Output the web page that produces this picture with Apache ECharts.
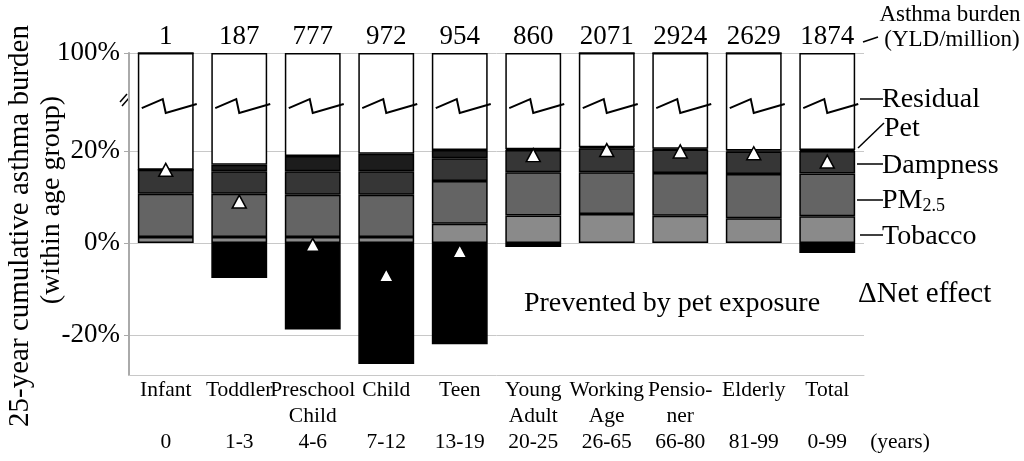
<!DOCTYPE html>
<html>
<head>
<meta charset="utf-8">
<script src="https://cdn.jsdelivr.net/npm/echarts@6/dist/echarts.min.js"></script>
<style>html,body{margin:0;padding:0;background:#fff}#c{width:1024px;height:461px}</style>
</head>
<body>
<div id="c"></div>
<script>
var categories = ['Infant','Toddler','Preschool\nChild','Child','Teen','Young\nAdult','Working\nAge','Pensio-\nner','Elderly','Total'];
var ages = ['0','1-3','4-6','7-12','13-19','20-25','26-65','66-80','81-99','0-99'];
var burden = [1,187,777,972,954,860,2071,2924,2629,1874];
var tobacco = [1.3,1.3,1.3,1.3,4.2,6.0,6.3,5.9,5.4,5.8];
var pm25 = [9.4,9.4,9.2,9.2,9.3,9.4,9.1,9.3,9.6,9.3];
var dampness = [5.2,4.9,5.1,5.1,4.9,4.8,5.2,5.1,4.9,4.9];
var pet = [0,1.4,3.3,3.8,1.8,0.2,0.2,0.2,0.2,0.2];
var prevented = [0,-7.6,-18.8,-26.3,-22.0,-0.9,0,0,0,-2.2];
var netEffect = [15.9,9.0,-0.4,-7.0,-1.8,19.1,20.2,19.9,19.5,17.7];
var yTickValues = [-20, 0, 20, 100];

// broken axis: values above 20% are compressed
var BREAK_AT = 20, BREAK_TOP = 41.3;
function toDisp(v){ return v <= BREAK_AT ? v : BREAK_AT + (v - BREAK_AT) * (BREAK_TOP - BREAK_AT) / (100 - BREAK_AT); }
function fromDisp(d){ return d <= BREAK_AT + 0.01 ? d : BREAK_AT + (d - BREAK_AT) * (100 - BREAK_AT) / (BREAK_TOP - BREAK_AT); }
var posSum = categories.map(function(_, i){ return tobacco[i] + pm25[i] + dampness[i] + pet[i]; });
var residual = posSum.map(function(s){ return 100 - s; });
var residualDisp = posSum.map(function(s){ return +(toDisp(100) - s).toFixed(3); });
var zigzagLevel = 30.2;

var SERIF = '"Liberation Serif","DejaVu Serif",serif';
var border = {borderColor:'#000', borderWidth:1.5};
function barSeries(name, data, color){
  return {name:name, type:'bar', stack:'a', data:data, barCategoryGap:'24%',
    itemStyle:Object.assign({color:color}, border), emphasis:{disabled:true}};
}

var chart = echarts.init(document.getElementById('c'));
var option = {
  animation:false,
  grid:{left:129, right:160, top:53, bottom:86},
  xAxis:{type:'category', data:categories,
    axisLine:{onZero:false, lineStyle:{color:'#c8c8c8', width:1}},
    axisTick:{show:false},
    axisLabel:{interval:0, margin:2, color:'#000', fontFamily:SERIF, fontSize:21.5, lineHeight:26,
      formatter:function(v, i){ var parts = v.split('\n'); if(parts.length<2) parts.push(''); return parts.join('\n') + '\n' + ages[i]; }}
  },
  yAxis:{type:'value', min:-28.7, max:BREAK_TOP,
    axisLine:{show:true, lineStyle:{color:'#aaa', width:2}},
    axisTick:{show:true, length:5, lineStyle:{color:'#aaa'}, customValues:yTickValues.map(toDisp)},
    axisLabel:{customValues:yTickValues.map(toDisp), margin:9, color:'#000', fontFamily:SERIF, fontSize:27,
      formatter:function(v){ return Math.round(fromDisp(v)) + '%'; }},
    splitLine:{show:true, lineStyle:{color:'#c8c8c8', width:1}}
  },
  series:[
    barSeries('Tobacco', tobacco, '#8a8a8a'),
    barSeries('PM2.5', pm25, '#646464'),
    barSeries('Dampness', dampness, '#363636'),
    barSeries('Pet', pet, '#1c1c1c'),
    Object.assign(barSeries('Residual', residualDisp, '#ffffff'), {
      label:{show:true, position:'top', distance:3, color:'#000', fontFamily:SERIF, fontSize:27,
        formatter:function(p){ return String(burden[p.dataIndex]); }}
    }),
    barSeries('Prevented by pet exposure', prevented, '#000000'),
    {type:'custom', name:'break', z:5, data:categories.map(function(_, i){ return [i, zigzagLevel]; }),
      renderItem:function(params, api){
        var c = api.coord([api.value(0), api.value(1)]);
        var x = c[0], y = c[1];
        return {type:'polyline', shape:{points:[[x-24,y+4],[x-3,y-5],[x,y+9],[x+31,y]]},
          style:{stroke:'#000', lineWidth:2, fill:null}};
      }},
    {type:'scatter', name:'Net effect', z:6, data:netEffect, symbol:'triangle', symbolSize:[14,13],
      itemStyle:{color:'#fff', opacity:1, borderColor:'#000', borderWidth:1.5}, emphasis:{disabled:true}}
  ],
  graphic:[
    {type:'text', rotation:Math.PI/2, x:20, y:226,
      style:{text:'25-year cumulative asthma burden', font:'29px '+SERIF, fill:'#000', textAlign:'center', textVerticalAlign:'middle'}},
    {type:'text', rotation:Math.PI/2, x:52, y:200,
      style:{text:'(within age group)', font:'28px '+SERIF, fill:'#000', textAlign:'center', textVerticalAlign:'middle'}},
    {type:'line', shape:{x1:120,y1:102,x2:127,y2:94}, style:{stroke:'#000', lineWidth:1.5}},
    {type:'line', shape:{x1:122,y1:106,x2:129,y2:98}, style:{stroke:'#000', lineWidth:1.5}},
    {type:'text', x:950, y:15, style:{text:'Asthma burden', font:'23px '+SERIF, fill:'#000', textAlign:'center', textVerticalAlign:'middle'}},
    {type:'text', x:952, y:40, style:{text:'(YLD/million)', font:'23px '+SERIF, fill:'#000', textAlign:'center', textVerticalAlign:'middle'}},
    {type:'line', shape:{x1:863,y1:42,x2:878,y2:37}, style:{stroke:'#000', lineWidth:1.5}},
    {type:'line', shape:{x1:860,y1:99,x2:883,y2:99}, style:{stroke:'#000', lineWidth:1.5}},
    {type:'text', x:882, y:100, style:{text:'Residual', font:'28px '+SERIF, fill:'#000', textVerticalAlign:'middle'}},
    {type:'line', shape:{x1:858,y1:148,x2:884,y2:123}, style:{stroke:'#000', lineWidth:1.5}},
    {type:'text', x:884, y:129, style:{text:'Pet', font:'28px '+SERIF, fill:'#000', textVerticalAlign:'middle'}},
    {type:'line', shape:{x1:857,y1:164,x2:883,y2:164}, style:{stroke:'#000', lineWidth:1.5}},
    {type:'text', x:882, y:166, style:{text:'Dampness', font:'28px '+SERIF, fill:'#000', textVerticalAlign:'middle'}},
    {type:'line', shape:{x1:857,y1:200,x2:883,y2:200}, style:{stroke:'#000', lineWidth:1.5}},
    {type:'text', x:882, y:201, style:{rich:{a:{font:'28px '+SERIF, fill:'#000'}, s:{font:'18px '+SERIF, fill:'#000', padding:[11,0,0,0]}}, text:'{a|PM}{s|2.5}', textVerticalAlign:'middle'}},
    {type:'line', shape:{x1:860,y1:235,x2:883,y2:235}, style:{stroke:'#000', lineWidth:1.5}},
    {type:'text', x:882, y:237, style:{text:'Tobacco', font:'28px '+SERIF, fill:'#000', textVerticalAlign:'middle'}},
    {type:'text', x:672, y:304, style:{text:'Prevented by pet exposure', font:'28px '+SERIF, fill:'#000', textAlign:'center', textVerticalAlign:'middle'}},
    {type:'text', x:858, y:294, style:{text:'\u0394Net effect', font:'29px '+SERIF, fill:'#000', textVerticalAlign:'middle'}},
    {type:'text', x:900, y:442, style:{text:'(years)', font:'21.5px '+SERIF, fill:'#000', textAlign:'center', textVerticalAlign:'middle'}}
  ]
};
chart.setOption(option);
</script>
</body>
</html>
